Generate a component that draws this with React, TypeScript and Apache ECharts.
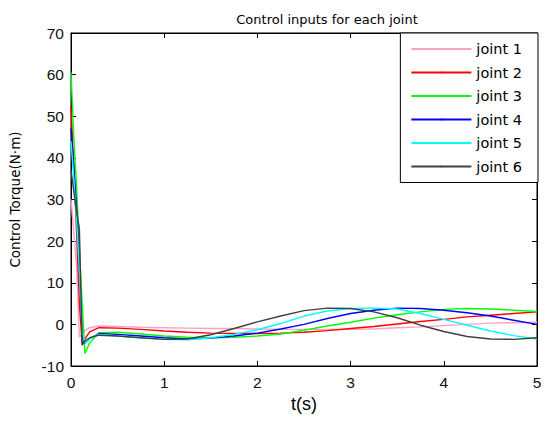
import React, { useEffect, useRef } from "react";
import * as echarts from "echarts";

const T = [0, 0.03, 0.06, 0.09, 0.12, 0.15, 0.2, 0.3, 0.5, 0.75, 1.0, 1.25, 1.5, 1.75, 2.0, 2.25, 2.5, 2.75, 3.0, 3.25, 3.5, 3.75, 4.0, 4.25, 4.5, 4.75, 5.0];

const joint1 = [30, 22, 14, -3, -2.5, -1.5, -0.8, -0.4, -0.5, -0.7, -0.8, -0.9, -1.0, -1.0, -1.1, -1.2, -1.2, -1.2, -1.2, -1.1, -0.8, -0.6, -0.3, 0, 0.3, 0.4, 0.5];
const joint2 = [52, 38, 22, 5, -4.8, -3.5, -1.8, -0.8, -0.9, -1.2, -1.6, -1.9, -2.1, -2.2, -2.2, -2.1, -1.9, -1.5, -1.0, -0.5, 0.1, 0.7, 1.2, 1.8, 2.2, 2.6, 3.0];
const joint3 = [60.5, 45, 33, 18, 5, -7, -4.5, -2.0, -1.9, -2.3, -2.8, -3.1, -3.2, -3.1, -2.8, -2.3, -1.4, -0.4, 0.5, 1.5, 2.3, 3.0, 3.6, 3.8, 3.7, 3.4, 3.1];
const joint4 = [47, 38, 28, 14, -3, -4.5, -3.5, -2.2, -2.4, -2.8, -3.2, -3.5, -3.3, -2.8, -2.1, -1.1, 0, 1.4, 2.6, 3.4, 3.9, 3.8, 3.4, 2.8, 2.0, 1.0, 0];
const joint5 = [44, 35, 25, 13, -2, -4.5, -3.5, -2.4, -2.8, -3.2, -3.6, -3.7, -3.2, -2.4, -1.3, 0.2, 2.0, 3.2, 3.8, 3.9, 3.7, 2.6, 1.2, -0.2, -1.6, -2.7, -3.5];
const joint6 = [37, 32, 27, 23, -5, -4, -3.2, -2.6, -2.8, -3.2, -3.6, -3.5, -2.5, -1.0, 0.6, 2.0, 3.3, 3.9, 3.8, 3.0, 1.6, -0.2, -1.7, -2.9, -3.5, -3.6, -3.2];

const names = ["joint 1", "joint 2", "joint 3", "joint 4", "joint 5", "joint 6"];
const values = [joint1, joint2, joint3, joint4, joint5, joint6];
const colors = ["#ffa0c4", "#ff0000", "#00ff00", "#0000ff", "#00ffff", "#404040"];

const xTicks = { min: 0, max: 5, interval: 1 };
const yTicks = { min: -10, max: 70, interval: 10 };

const SANS = "Liberation Sans, Arial, sans-serif";
const WIDE = "DejaVu Sans, sans-serif";

export default function App() {
  const ref = useRef<HTMLDivElement>(null);
  useEffect(() => {
    document.body.style.margin = "0";
    const chart = echarts.init(ref.current!, null, { renderer: "svg" });
    const axisLine = { show: true, onZero: false, lineStyle: { color: "#000", width: 1 } };
    const tick = { show: true, inside: true, length: 5, lineStyle: { color: "#000" } };
    const labelStyle = { color: "#111", fontSize: 15.5, fontFamily: SANS };
    chart.setOption({
      animation: false,
      backgroundColor: "#fff",
      title: {
        text: "Control inputs for each joint",
        left: 322,
        top: 8,
        textAlign: "center",
        textStyle: { fontSize: 13, fontWeight: "normal", color: "#000", fontFamily: WIDE },
      },
      grid: { left: 70, right: 13, top: 33, bottom: 56, show: true, borderColor: "#000", borderWidth: 1, backgroundColor: "transparent" },
      legend: {
        orient: "vertical",
        right: 12,
        top: 33,
        data: names,
        itemWidth: 60,
        itemHeight: 2,
        itemGap: 7.5,
        padding: [8, 16, 8, 10],
        backgroundColor: "#fff",
        borderColor: "#000",
        borderWidth: 1,
        borderRadius: 0,
        textStyle: { fontSize: 14.5, lineHeight: 16, color: "#000", fontFamily: WIDE },
      },
      xAxis: [
        {
          type: "value",
          ...xTicks,
          name: "t(s)",
          nameLocation: "middle",
          nameGap: 28,
          nameTextStyle: { fontSize: 18, color: "#000", fontFamily: SANS },
          axisLine,
          axisTick: tick,
          axisLabel: { ...labelStyle, margin: 8 },
          splitLine: { show: false },
        },
        {
          type: "value",
          position: "top",
          ...xTicks,
          axisLine,
          axisTick: tick,
          axisLabel: { show: false },
          splitLine: { show: false },
        },
      ],
      yAxis: [
        {
          type: "value",
          ...yTicks,
          name: "Control Torque(N·m)",
          nameLocation: "middle",
          nameGap: 49,
          nameTextStyle: { fontSize: 13.5, color: "#000", fontFamily: WIDE },
          axisLine,
          axisTick: tick,
          axisLabel: { ...labelStyle, margin: 7 },
          splitLine: { show: false },
        },
        {
          type: "value",
          position: "right",
          ...yTicks,
          axisLine,
          axisTick: tick,
          axisLabel: { show: false },
          splitLine: { show: false },
        },
      ],
      series: names.map((n, i) => ({
        name: n,
        type: "line",
        xAxisIndex: 0,
        yAxisIndex: 0,
        symbol: "none",
        color: colors[i],
        lineStyle: { width: 1.4, color: colors[i] },
        data: T.map((t, k) => [t, values[i][k]]),
        z: 2 + i,
      })),
    });
    return () => chart.dispose();
  }, []);
  return <div ref={ref} style={{ width: 550, height: 422 }} />;
}
